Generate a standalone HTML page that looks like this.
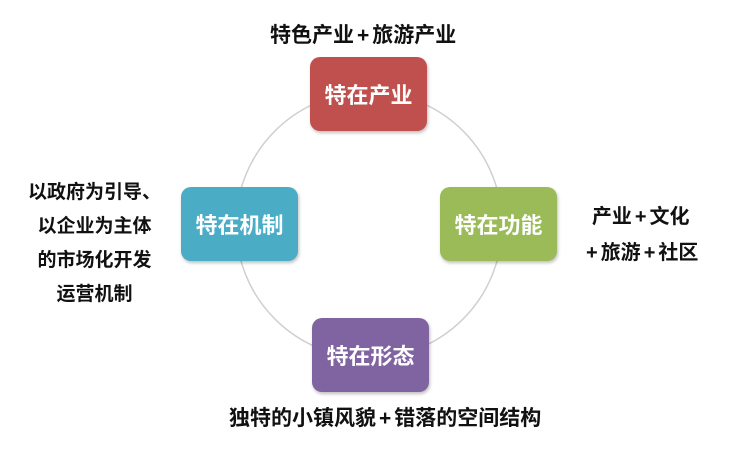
<!DOCTYPE html>
<html><head><meta charset="utf-8"><style>
body{margin:0;width:732px;height:449px;background:#fff;position:relative;overflow:hidden;font-family:"Liberation Sans","Noto Sans CJK SC",sans-serif;}
.b{position:absolute;width:117px;height:74px;border-radius:10px;color:#fff;font-size:22px;font-weight:bold;display:flex;align-items:center;justify-content:center;box-shadow:1px 2px 3px rgba(0,0,0,0.25);}
.t{position:absolute;font-size:19px;font-weight:bold;color:#111;white-space:nowrap;}
.p{margin:0 3px;}
</style></head><body>
<svg width="732" height="449" style="position:absolute;left:0;top:0"><circle cx="369" cy="225" r="133" fill="none" stroke="#d0d0d0" stroke-width="1.5"/></svg>
<div class="b" style="left:310px;top:57px;background:#c0504d">特在产业</div>
<div class="b" style="left:181px;top:187px;background:#4bacc6">特在机制</div>
<div class="b" style="left:440px;top:187px;background:#9bbb59">特在功能</div>
<div class="b" style="left:312px;top:318px;background:#8064a2">特在形态</div>
<div class="t" style="left:270px;top:19px;font-size:21px">特色产业<span class="p">+</span>旅游产业</div>
<div class="t" style="left:229px;top:402px;font-size:21px">独特的小镇风貌<span class="p">+</span>错落的空间结构</div>
<div class="t" style="left:583px;top:199px;line-height:36px;text-align:center;font-size:20px">产业<span class="p">+</span>文化<br><span class="p">+</span>旅游<span class="p">+</span>社区</div>
<div class="t" style="left:28px;top:176px;line-height:34px;text-align:center">以政府为引导、<br>以企业为主体<br>的市场化开发<br>运营机制</div>
</body></html>
